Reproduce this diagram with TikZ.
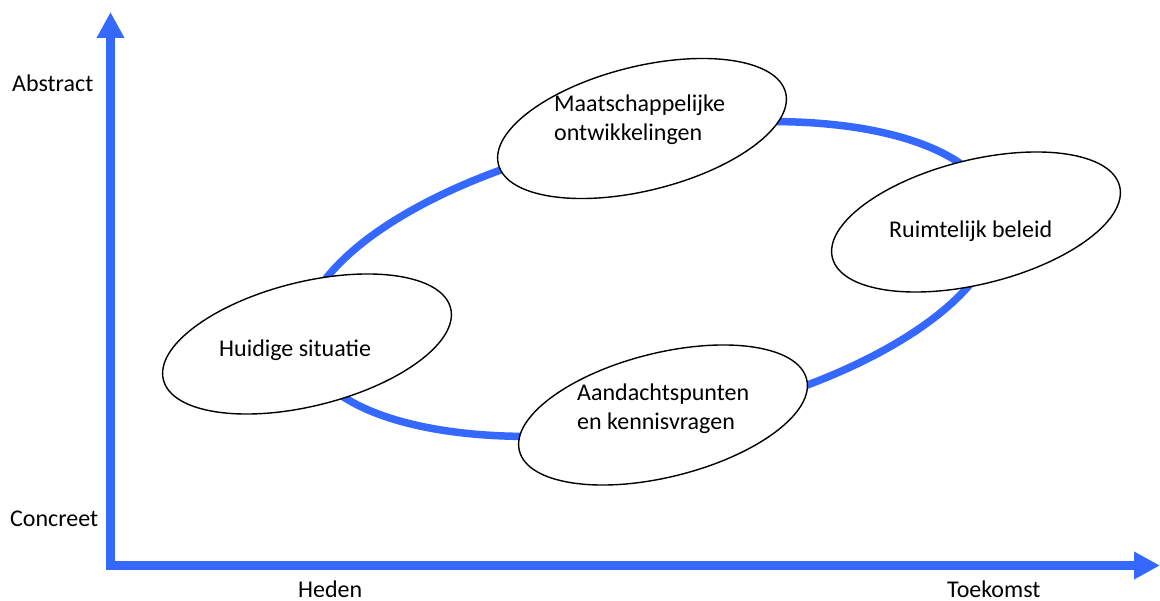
\documentclass[tikz,border=0pt]{standalone}
\usepackage{fontspec}
\setmainfont{Carlito}
\usetikzlibrary{arrows.meta,shapes.geometric}
\definecolor{axisblue}{RGB}{52,104,255}
\begin{document}
\begin{tikzpicture}[x=1pt,y=1pt,
  bubble/.style={ellipse,draw=black,line width=1.4pt,fill=white,inner sep=0pt,
    minimum width=296pt,minimum height=124pt,rotate=14},
  lbl/.style={anchor=base west,inner sep=0pt,font=\fontsize{24}{29}\selectfont,align=left},
  axisline/.style={draw=axisblue,line width=9pt,-{Triangle[length=26pt,width=26pt]}},
  ring/.style={draw=axisblue,line width=7.5pt}]
\useasboundingbox (0,0) rectangle (1160,-601);
% axes
\coordinate (yfoot) at (110.5,-570);
\coordinate (ytip) at (110.5,-12);
\coordinate (xfoot) at (106,-565.5);
\coordinate (xtip) at (1160,-565.5);
\draw[axisline] (yfoot) -- (ytip);
\draw[axisline] (xfoot) -- (xtip);
% cycle
\coordinate (cc) at (650,-279);
\draw[ring,rotate around={11:(cc)}] (cc) ellipse [x radius=352, y radius=145];
% bubbles
\node[bubble] (hs) at (307,-344) {};
\node[bubble] (mo) at (642,-128.5) {};
\node[bubble] (rb) at (976,-222) {};
\node[bubble] (ak) at (663,-415) {};
% bubble texts
\node[lbl] (hst) at (219,-357) {Huidige situatie};
\node[lbl] (mot1) at (554,-112) {Maatschappelijke};
\node[lbl] (mot2) at (554,-141) {ontwikkelingen};
\node[lbl] (rbt) at (889,-238) {Ruimtelijk beleid};
\node[lbl] (akt1) at (577,-401) {Aandachtspunten};
\node[lbl] (akt2) at (577,-430) {en kennisvragen};
% axis labels
\node[lbl] (abs) at (12,-92) {Abstract};
\node[lbl] (con) at (10,-526) {Concreet};
\node[lbl] (hed) at (298,-597) {Heden};
\node[lbl] (toe) at (947,-597) {Toekomst};
\end{tikzpicture}
\end{document}
